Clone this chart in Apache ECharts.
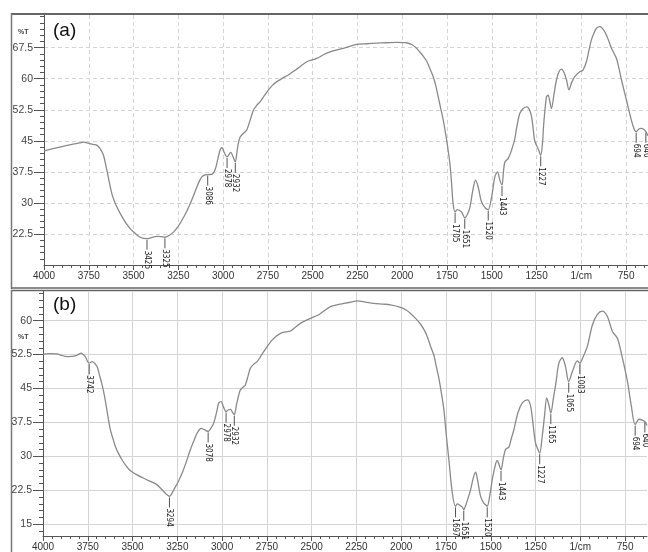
<!DOCTYPE html>
<html>
<head>
<meta charset="utf-8">
<script src="https://cdn.jsdelivr.net/npm/echarts@6/dist/echarts.min.js"></script>
<style>
  html, body { margin: 0; padding: 0; background: #fff; overflow: hidden; }
  #root { width: 648px; height: 552px; }
</style>
</head>
<body>
<div id="root"></div>
<script>
// spectrum (a): [wavenumber 1/cm, %T]
const spectrumA = [
  [4000, 42.6], [3950, 43.1], [3900, 43.6], [3850, 44.1], [3800, 44.5], [3779, 44.7],
  [3750, 44.4], [3720, 44.1], [3704, 43.9], [3685, 43.0], [3668, 41.5], [3649, 37.9],
  [3621, 32.2], [3598, 29.5], [3574, 27.4], [3545, 25.3], [3519, 23.8], [3490, 22.6],
  [3463, 21.7], [3425, 21.35], [3400, 21.6], [3370, 21.9], [3345, 21.85], [3325, 21.7],
  [3300, 22.2], [3277, 22.95], [3250, 24.4], [3230, 25.8], [3205, 27.8], [3184, 29.8],
  [3165, 31.8], [3147, 33.8], [3130, 35.5], [3119, 36.3], [3100, 36.8], [3086, 36.85],
  [3063, 36.9], [3045, 38.0], [3030, 40.5], [3018, 42.6], [3007, 43.4], [2995, 42.3],
  [2978, 41.1], [2966, 41.8], [2957, 42.2], [2945, 41.2], [2932, 39.9], [2922, 42.5],
  [2915, 44.4], [2905, 45.9], [2896, 46.4], [2877, 47.2], [2868, 47.6], [2849, 50.0],
  [2831, 52.4], [2812, 53.6], [2794, 54.4], [2770, 55.9], [2747, 57.3], [2725, 58.4],
  [2700, 59.3], [2670, 60.1], [2636, 60.9], [2600, 62.0], [2571, 62.9], [2533, 64.1],
  [2500, 64.6], [2477, 64.9], [2440, 65.8], [2403, 66.5], [2365, 67.0], [2329, 67.35],
  [2290, 67.9], [2254, 68.3], [2200, 68.45], [2143, 68.6], [2090, 68.7], [2031, 68.8],
  [1976, 68.7], [1945, 68.2], [1920, 67.35], [1901, 66.4], [1880, 65.3], [1864, 64.3],
  [1846, 62.5], [1827, 60.5], [1812, 58.2], [1799, 55.6], [1785, 52.8], [1771, 50.0],
  [1760, 47.3], [1748, 44.0], [1734, 39.5], [1725, 35.0], [1716, 29.8], [1705, 27.8],
  [1693, 28.4], [1669, 27.8], [1651, 26.4], [1635, 27.4], [1622, 29.0], [1604, 33.5],
  [1591, 35.5], [1576, 33.85], [1557, 30.2], [1535, 28.7], [1520, 28.4], [1501, 31.4],
  [1483, 36.3], [1468, 37.5], [1455, 35.5], [1443, 34.3], [1435, 37.5], [1427, 39.9],
  [1409, 40.7], [1390, 42.7], [1371, 45.6], [1362, 48.0], [1344, 51.6], [1325, 52.8],
  [1303, 53.2], [1290, 52.5], [1278, 50.8], [1268, 47.5], [1260, 44.9], [1241, 43.1],
  [1227, 41.5], [1217, 44.4], [1210, 49.2], [1195, 55.6], [1186, 56.05], [1176, 54.5],
  [1167, 52.8], [1152, 56.5], [1139, 59.7], [1125, 61.7], [1111, 62.3], [1097, 61.5],
  [1083, 59.7], [1069, 57.3], [1055, 59.0], [1037, 60.5], [1009, 61.7], [991, 62.1],
  [972, 64.1], [958, 66.8], [944, 69.4], [930, 71.0], [916, 72.2], [897, 72.6],
  [885, 72.3], [870, 71.4], [850, 69.5], [832, 67.35], [804, 64.9], [790, 62.5],
  [776, 59.7], [748, 54.8], [721, 50.0], [705, 47.8], [694, 47.2], [680, 47.8],
  [667, 48.0], [652, 47.8], [640, 47.2], [628, 46.2]
];

// spectrum (b)
const spectrumB = [
  [4000, 52.6], [3960, 52.7], [3922, 52.65], [3895, 52.3], [3866, 52.05], [3840, 52.1],
  [3820, 52.2], [3800, 52.6], [3788, 52.8], [3775, 52.5], [3764, 52.05], [3742, 50.6],
  [3726, 50.95], [3712, 50.6], [3698, 49.85], [3685, 48.0], [3670, 45.8], [3655, 43.0],
  [3642, 39.9], [3624, 35.9], [3610, 34.0], [3596, 32.2], [3578, 30.6], [3559, 29.25],
  [3540, 28.1], [3522, 27.2], [3500, 26.5], [3475, 25.9], [3445, 25.3], [3419, 24.8],
  [3390, 24.3], [3363, 23.7], [3345, 23.0], [3326, 22.25], [3310, 21.6], [3294, 21.15],
  [3282, 21.7], [3270, 22.6], [3245, 24.4], [3223, 26.3], [3200, 28.8], [3177, 31.5],
  [3158, 33.4], [3140, 35.1], [3125, 36.0], [3116, 36.2], [3099, 35.9], [3078, 35.5],
  [3060, 36.4], [3047, 37.35], [3030, 39.9], [3019, 41.8], [3005, 42.1], [2995, 41.2],
  [2978, 39.9], [2965, 40.3], [2953, 40.4], [2943, 39.8], [2932, 39.2], [2922, 40.9],
  [2916, 42.1], [2898, 44.7], [2880, 45.4], [2870, 45.8], [2855, 47.8], [2842, 49.5],
  [2820, 50.5], [2804, 50.95], [2785, 52.1], [2767, 53.2], [2745, 54.5], [2721, 55.7],
  [2700, 56.5], [2674, 57.2], [2645, 57.5], [2618, 57.7], [2590, 58.6], [2563, 59.4],
  [2535, 60.0], [2507, 60.5], [2460, 61.3], [2430, 62.2], [2395, 63.1], [2360, 63.5],
  [2321, 63.8], [2280, 64.1], [2246, 64.35], [2200, 64.1], [2153, 63.8], [2100, 63.65],
  [2060, 63.5], [2004, 62.95], [1975, 62.4], [1948, 61.6], [1920, 60.5], [1892, 59.2],
  [1870, 57.8], [1855, 56.5], [1836, 54.3], [1818, 52.4], [1805, 50.0], [1790, 47.3],
  [1775, 43.8], [1762, 40.3], [1748, 34.5], [1734, 29.25], [1715, 21.9], [1697, 18.95],
  [1687, 19.5], [1670, 19.1], [1659, 18.8], [1651, 18.2], [1640, 19.2], [1628, 20.6],
  [1613, 22.6], [1598, 25.2], [1585, 26.5], [1575, 25.0], [1557, 21.15], [1540, 19.7],
  [1529, 19.3], [1520, 18.95], [1505, 21.5], [1492, 24.8], [1475, 28.0], [1464, 29.1],
  [1455, 28.3], [1443, 27.0], [1430, 29.6], [1417, 31.6], [1399, 32.05], [1385, 34.0],
  [1371, 35.9], [1349, 39.6], [1324, 41.8], [1296, 42.5], [1280, 41.5], [1268, 38.5],
  [1258, 35.0], [1250, 32.9], [1240, 31.8], [1227, 30.7], [1213, 34.4], [1200, 39.0],
  [1188, 42.9], [1176, 41.4], [1165, 39.55], [1150, 43.0], [1138, 45.8], [1120, 50.6],
  [1101, 51.8], [1083, 49.85], [1065, 46.5], [1045, 48.7], [1017, 51.1], [1003, 50.6],
  [984, 52.05], [961, 54.3], [933, 59.05], [905, 61.4], [877, 62.1], [849, 60.9],
  [821, 57.6], [793, 56.1], [765, 51.7], [737, 46.5], [715, 41.0], [694, 37.0],
  [672, 38.2], [655, 38.0], [640, 37.7], [628, 36.8]
];

// labelled peaks: [wavenumber, %T, text]
const peaksA = [
  [3425, 21.35, '3425'], [3325, 21.7, '3325'], [3086, 36.85, '3086'], [2978, 41.1, '2978'],
  [2932, 39.9, '2932'], [1705, 27.8, '1705'], [1651, 26.4, '1651'], [1520, 28.4, '1520'],
  [1443, 34.3, '1443'], [1227, 41.5, '1227'], [694, 47.2, '694'], [640, 47.2, '640']
];
const peaksB = [
  [3742, 50.6, '3742'], [3294, 21.15, '3294'], [3078, 35.5, '3078'], [2978, 39.9, '2978'],
  [2932, 39.2, '2932'], [1697, 18.95, '1697'], [1651, 18.2, '1651'], [1520, 18.95, '1520'],
  [1443, 27.0, '1443'], [1227, 30.7, '1227'], [1165, 39.55, '1165'], [1065, 46.5, '1065'],
  [1003, 50.6, '1003'], [694, 37.0, '694'], [640, 37.7, '640']
];

const xTickValues = [4000, 3750, 3500, 3250, 3000, 2750, 2500, 2250, 2000, 1750, 1500, 1250, 1000, 750];
const yTickValuesA = [22.5, 30, 37.5, 45, 52.5, 60, 67.5];
const yTickValuesB = [15, 22.5, 30, 37.5, 45, 52.5, 60];

const X_MIN = 628, X_MAX = 4000;
const xMinorTicks = [];
for (let v = 650; v <= 4000; v += 50) xMinorTicks.push(v);
const yMinorA = [], yMinorB = [];
for (let v = 16.5; v < 75.4; v += 1.5) yMinorA.push(+v.toFixed(1));
for (let v = 13.5; v < 66.5; v += 1.5) yMinorB.push(+v.toFixed(1));

const FONT = '"Liberation Sans", Arial, sans-serif';
const axisColor = '#555';

function makeXAxes(gi, dashed) {
  return [{
    type: 'value', gridIndex: gi, position: 'bottom', inverse: true, min: X_MIN, max: X_MAX,
    axisLine: { show: true, lineStyle: { color: axisColor, width: 1 } },
    axisTick: { show: true, customValues: xTickValues, length: 5, lineStyle: { color: axisColor } },
    axisLabel: {
      customValues: xTickValues, margin: 6, color: '#333', fontSize: 10, fontFamily: FONT,
      formatter: v => (v === 1000 ? '1/cm' : String(v))
    },
    splitLine: { show: true, lineStyle: { color: '#d4d4d4', width: 1, type: dashed ? [4, 3] : 'solid' } }
  }, {
    type: 'value', gridIndex: gi, position: 'bottom', inverse: true, min: X_MIN, max: X_MAX,
    axisLine: { show: false },
    axisTick: { show: true, customValues: xMinorTicks, length: 3, lineStyle: { color: axisColor } },
    axisLabel: { show: false }, splitLine: { show: false }
  }];
}

function makeYAxes(gi, min, max, ticks, minor, dashed) {
  return [{
    type: 'value', gridIndex: gi, position: 'left', min: min, max: max,
    axisLine: { show: true, lineStyle: { color: axisColor, width: 1 } },
    axisTick: { show: true, customValues: ticks, length: 10, lineStyle: { color: axisColor } },
    axisLabel: { customValues: ticks, margin: 11, color: '#444', fontSize: 10.5, fontFamily: FONT },
    splitLine: { show: true, lineStyle: { color: '#d4d4d4', width: 1, type: dashed ? [4, 3] : 'solid' } }
  }, {
    type: 'value', gridIndex: gi, position: 'left', min: min, max: max,
    axisLine: { show: false },
    axisTick: { show: true, customValues: minor, length: 4, lineStyle: { color: axisColor } },
    axisLabel: { show: false }, splitLine: { show: false }
  }];
}

// peak marker: short drop line under the band, then the rotated wavenumber
function peakSeries(peaks, gi) {
  return {
    type: 'custom', xAxisIndex: gi * 2, yAxisIndex: gi * 2, clip: false, z: 5,
    data: peaks.map(p => [p[0], p[1]]),
    renderItem: (params, api) => {
      const pt = api.coord([api.value(0), api.value(1)]);
      return {
        type: 'group',
        children: [
          { type: 'line', shape: { x1: pt[0], y1: pt[1] + 1, x2: pt[0], y2: pt[1] + 11 },
            style: { stroke: '#555', lineWidth: 1 } },
          { type: 'text', x: pt[0], y: pt[1] + 12, rotation: -Math.PI / 2,
            style: { text: peaks[params.dataIndex][2], fill: '#222',
              font: '8px "Liberation Sans Narrow", "DejaVu Sans Condensed", sans-serif',
              align: 'left', verticalAlign: 'middle' } }
        ]
      };
    }
  };
}

const chart = echarts.init(document.getElementById('root'), null, { renderer: 'canvas' });

chart.setOption({
  animation: false,
  backgroundColor: '#fff',
  grid: [
    { left: 44, top: 15, width: 604, height: 250 },
    { left: 43, top: 291, width: 604, height: 246 }
  ],
  xAxis: [...makeXAxes(0, true), ...makeXAxes(1, false)],
  yAxis: [
    ...makeYAxes(0, 15, 75.4, yTickValuesA, yMinorA, true),
    ...makeYAxes(1, 12.4, 66.55, yTickValuesB, yMinorB, false)
  ],
  series: [
    { type: 'line', xAxisIndex: 0, yAxisIndex: 0, data: spectrumA, showSymbol: false, smooth: 0.3,
      lineStyle: { color: '#8a8a8a', width: 1.3 } },
    { type: 'line', xAxisIndex: 2, yAxisIndex: 2, data: spectrumB, showSymbol: false, smooth: 0.3,
      lineStyle: { color: '#8a8a8a', width: 1.3 } },
    peakSeries(peaksA, 0),
    peakSeries(peaksB, 1)
  ],
  graphic: [
    // panel frames
    { type: 'line', shape: { x1: 11, y1: 14, x2: 648, y2: 14 }, style: { stroke: '#666', lineWidth: 2 } },
    { type: 'line', shape: { x1: 11.5, y1: 13, x2: 11.5, y2: 289 }, style: { stroke: '#777', lineWidth: 1.5 } },
    { type: 'line', shape: { x1: 11, y1: 288, x2: 648, y2: 288 }, style: { stroke: '#666', lineWidth: 1.5 } },
    { type: 'line', shape: { x1: 11, y1: 290.5, x2: 648, y2: 290.5 }, style: { stroke: '#666', lineWidth: 1.5 } },
    { type: 'line', shape: { x1: 11.5, y1: 290, x2: 11.5, y2: 552 }, style: { stroke: '#777', lineWidth: 1.5 } },
    // panel titles
    { type: 'text', left: 53, top: 21, style: { text: '(a)', font: '19px ' + FONT, fill: '#111' } },
    { type: 'text', left: 53, top: 295, style: { text: '(b)', font: '19px ' + FONT, fill: '#111' } },
    { type: 'text', left: 18, top: 29, style: { text: '%T', font: 'bold 7px ' + FONT, fill: '#444' } },
    { type: 'text', left: 18, top: 334, style: { text: '%T', font: 'bold 7px ' + FONT, fill: '#444' } }
  ]
});
</script>
</body>
</html>
